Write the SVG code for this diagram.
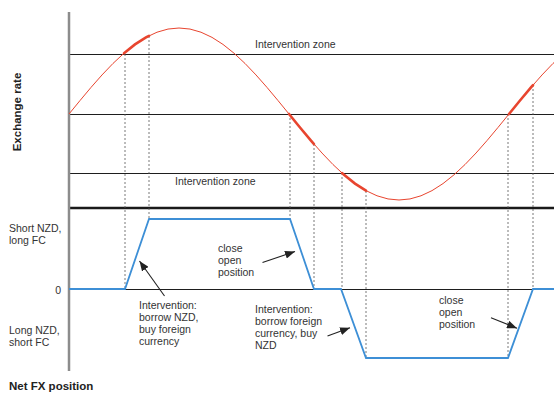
<svg xmlns="http://www.w3.org/2000/svg" width="554" height="394" viewBox="0 0 554 394">
  <style>
    .lbl { font-family: "Liberation Sans", Arial, sans-serif; font-size: 10.5px; fill: #333333; }
    .bold { font-family: "Liberation Sans", Arial, sans-serif; font-size: 11.5px; font-weight: bold; fill: #222222; }
    .grid { stroke: #1e1e1e; stroke-width: 1.1; fill: none; }
    .dash { stroke: #555555; stroke-width: 0.8; stroke-dasharray: 2 2; fill: none; }
    .curve { stroke: #e8452f; stroke-width: 1; fill: none; }
    .curveThick { stroke: #e8452f; stroke-width: 2.6; fill: none; stroke-linecap: round; }
    .pos { stroke: #3d8fd6; stroke-width: 1.8; fill: none; stroke-linejoin: miter; }
    .arrow { stroke: #222222; stroke-width: 1.1; fill: none; marker-end: url(#ah); }
  </style>
  <defs>
    <marker id="ah" viewBox="0 0 10 8" refX="10" refY="4" markerWidth="10" markerHeight="8" markerUnits="userSpaceOnUse" orient="auto">
      <path d="M0,0 L10,4 L0,8 Z" fill="#222222"/>
    </marker>
  </defs>

  <g id="grid-lines">
    <line class="grid" x1="69" y1="54.5" x2="554" y2="54.5"/>
    <line class="grid" x1="69" y1="114.5" x2="554" y2="114.5"/>
    <line class="grid" x1="69" y1="173.5" x2="554" y2="173.5"/>
    <line x1="69" y1="208" x2="554" y2="208" stroke="#1a1a1a" stroke-width="2.5"/>
    <line class="grid" x1="69" y1="289.5" x2="554" y2="289.5"/>
  </g>

  <g id="guides">
    <line class="dash" x1="125" y1="54" x2="125" y2="289"/>
    <line class="dash" x1="149" y1="36" x2="149" y2="219"/>
    <line class="dash" x1="290" y1="114" x2="290" y2="219"/>
    <line class="dash" x1="314" y1="144" x2="314" y2="289"/>
    <line class="dash" x1="342" y1="173" x2="342" y2="289"/>
    <line class="dash" x1="366" y1="191" x2="366" y2="358"/>
    <line class="dash" x1="508" y1="114" x2="508" y2="358"/>
    <line class="dash" x1="533" y1="85" x2="533" y2="289"/>
  </g>

  <g id="axis">
    <line x1="69" y1="12" x2="69" y2="371" stroke="#8c8c8c" stroke-width="2.5"/>
  </g>

  <g id="exchange-rate-curve">
    <path class="curve" d="M69,114 L80,100.55 L91,87.42 L102,74.96 L113,63.45 L124,53.19 L135,44.42 L146,37.37 L157,32.21 L168,29.06 L179,28 L190,29.06 L201,32.21 L212,37.37 L223,44.42 L234,53.19 L245,63.45 L256,74.96 L267,87.42 L278,100.55 L289,114 L300,127.45 L311,140.58 L322,153.04 L333,164.55 L344,174.81 L355,183.58 L366,190.63 L377,195.79 L388,198.94 L399,200 L410,198.94 L421,195.79 L432,190.63 L443,183.58 L454,174.81 L465,164.55 L476,153.04 L487,140.58 L498,127.45 L509,114 L520,100.55 L531,87.42 L542,74.96 L553,63.45 L564,53.19"/>
    <path class="curveThick" d="M124,53.19 L135,44.42 L146,37.37 L149,35.8"/>
    <path class="curveThick" d="M289,114 L300,127.45 L311,140.58 L314,144.05"/>
    <path class="curveThick" d="M342,173.05 L344,174.81 L355,183.58 L366,190.63"/>
    <path class="curveThick" d="M509,114 L520,100.55 L531,87.42 L533,85.1"/>
  </g>

  <g id="net-position-line">
    <polyline class="pos" points="69,289 125,289 149,219 290,219 314,289 341,289 366,358 508,358 533,289 554,289"/>
  </g>

  <g id="zone-labels">
    <text class="lbl" x="255" y="47.5">Intervention zone</text>
    <text class="lbl" x="175" y="185">Intervention zone</text>
  </g>

  <g id="axis-labels">
    <text class="bold" transform="translate(21,112) rotate(-90)" text-anchor="middle">Exchange rate</text>
    <text class="lbl" x="9" y="232">Short NZD,</text>
    <text class="lbl" x="9" y="244">long FC</text>
    <text class="lbl" x="61" y="294" text-anchor="end">0</text>
    <text class="lbl" x="9" y="334">Long NZD,</text>
    <text class="lbl" x="9" y="346">short FC</text>
    <text class="bold" x="9" y="390">Net FX position</text>
  </g>

  <g id="note-borrow-nzd">
    <text class="lbl" x="139" y="309">Intervention:</text>
    <text class="lbl" x="139" y="321">borrow NZD,</text>
    <text class="lbl" x="139" y="333">buy foreign</text>
    <text class="lbl" x="139" y="345">currency</text>
  </g>

  <g id="note-close-1">
    <text class="lbl" x="218" y="252">close</text>
    <text class="lbl" x="218" y="264">open</text>
    <text class="lbl" x="218" y="276">position</text>
  </g>

  <g id="note-borrow-fc">
    <text class="lbl" x="255" y="313">Intervention:</text>
    <text class="lbl" x="255" y="325">borrow foreign</text>
    <text class="lbl" x="255" y="337">currency, buy</text>
    <text class="lbl" x="255" y="349">NZD</text>
  </g>

  <g id="note-close-2">
    <text class="lbl" x="439" y="304">close</text>
    <text class="lbl" x="439" y="316">open</text>
    <text class="lbl" x="439" y="328">position</text>
  </g>

  <g id="connectors">
    <line class="arrow" x1="164.5" y1="296" x2="139.5" y2="261"/>
    <line class="arrow" x1="262.5" y1="262.5" x2="295" y2="251.5"/>
    <line class="arrow" x1="327.5" y1="336" x2="350" y2="327.7"/>
    <line class="arrow" x1="491" y1="317.7" x2="517" y2="328.3"/>
  </g>
</svg>
